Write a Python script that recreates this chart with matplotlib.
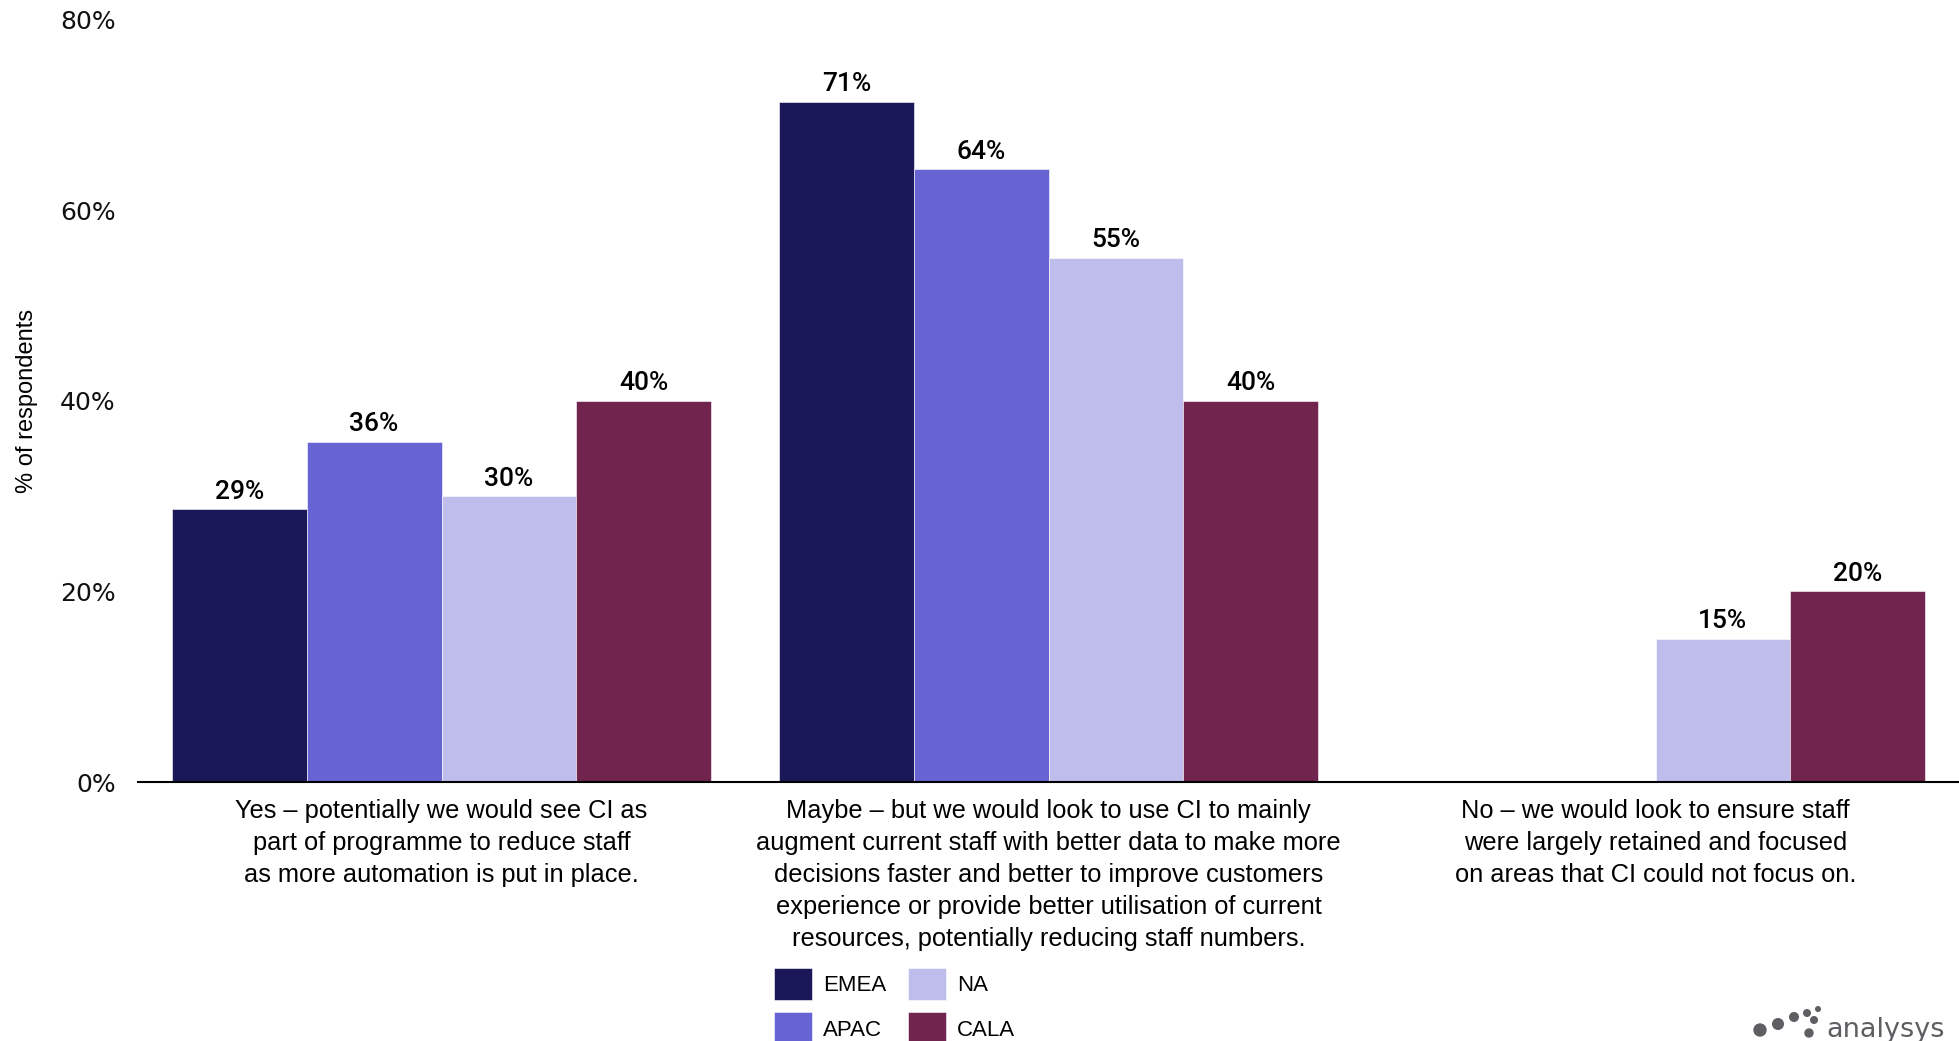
import matplotlib
matplotlib.use("Agg")
import matplotlib.pyplot as plt
from matplotlib.patches import Circle
import numpy as np

categories = [
    "Yes \u2013 potentially we would see CI as\npart of programme to reduce staff\nas more automation is put in place.",
    "Maybe \u2013 but we would look to use CI to mainly\naugment current staff with better data to make more\ndecisions faster and better to improve customers\nexperience or provide better utilisation of current\nresources, potentially reducing staff numbers.",
    "No \u2013 we would look to ensure staff\nwere largely retained and focused\non areas that CI could not focus on.",
]
series_names = ["EMEA", "APAC", "NA", "CALA"]
emea = [0.286, 0.714, None]
apac = [0.357, 0.643, None]
na = [0.30, 0.55, 0.15]
cala = [0.40, 0.40, 0.20]
series_values = [emea, apac, na, cala]
colors = ["#1B1858", "#6763D3", "#BFBDEC", "#70244E"]
yticks = [0, 0.2, 0.4, 0.6, 0.8]
ytick_labels = ["0%", "20%", "40%", "60%", "80%"]

W, H = 1959, 1041
fig = plt.figure(figsize=(W / 100, H / 100), dpi=100)
ax = fig.add_axes([138 / W, 1 - 782 / H, 1 - 138 / W, (782 - 19.6) / H])

x = np.arange(len(categories))
bw = 0.222
offsets = (np.arange(4) - 1.5) * bw
label_font = "Liberation Sans"
for i, (name, vals, c) in enumerate(zip(series_names, series_values, colors)):
    xs = [x[j] + offsets[i] for j, v in enumerate(vals) if v is not None]
    hs = [v for v in vals if v is not None]
    bars = ax.bar(xs, hs, width=bw, color=c, label=name, edgecolor="white", linewidth=0.4)
    for b, v in zip(bars, hs):
        ax.annotate(f"{round(v * 100):d}%", (b.get_x() + b.get_width() / 2, v),
                    xytext=(0, 4), textcoords="offset points", ha="center", va="bottom",
                    fontsize=19, family=["Roboto", "Liberation Sans"], fontweight=500,
                    color="#000000")

ax.set_xlim(-0.5, 2.5)
ax.set_ylim(0, 0.8)
ax.set_yticks(yticks)
ax.set_yticklabels(ytick_labels, fontsize=18, family="DejaVu Sans", color="#111111")
ax.set_xticks(x)
ax.set_xticklabels(categories, fontsize=18.3, family=label_font, linespacing=1.42)
ax.tick_params(axis="both", length=0)
ax.tick_params(axis="y", pad=16)
ax.tick_params(axis="x", pad=12)
for s in ["top", "right", "left"]:
    ax.spines[s].set_visible(False)
ax.spines["bottom"].set_linewidth(1.5)
ax.spines["bottom"].set_color("#000000")
ax.set_ylabel("% of respondents", fontsize=17, family=["Liberation Sans Narrow", "Liberation Sans"],
              labelpad=0)
ax.yaxis.set_label_coords(-(138 - 38) / (W - 138), 0.5)

leg = fig.legend(loc="upper left", bbox_to_anchor=(774 / W, 1 - 968 / H), ncol=2, frameon=False,
                 prop={"family": label_font, "size": 16}, handlelength=1.7, handleheight=1.85,
                 handletextpad=0.5, columnspacing=1.0, labelspacing=0.55, borderpad=0,
                 borderaxespad=0)

# logo
dots = [(1760, 1030, 6), (1778, 1024, 5.3), (1794, 1017, 4.3), (1807, 1013, 3.3),
        (1818, 1009, 2.3), (1814, 1020, 3.3), (1809, 1033, 4)]
for dx, dy, r in dots:
    fig.patches.append(Circle((dx, H - dy), r, transform=None, color="#5f5f63"))
fig.text(1826 / W, 1 - 1037 / H, "analysys", fontsize=19.5, family="DejaVu Sans",
         color="#5f5f63", ha="left", va="baseline")

fig.savefig("out.png", dpi=100)
